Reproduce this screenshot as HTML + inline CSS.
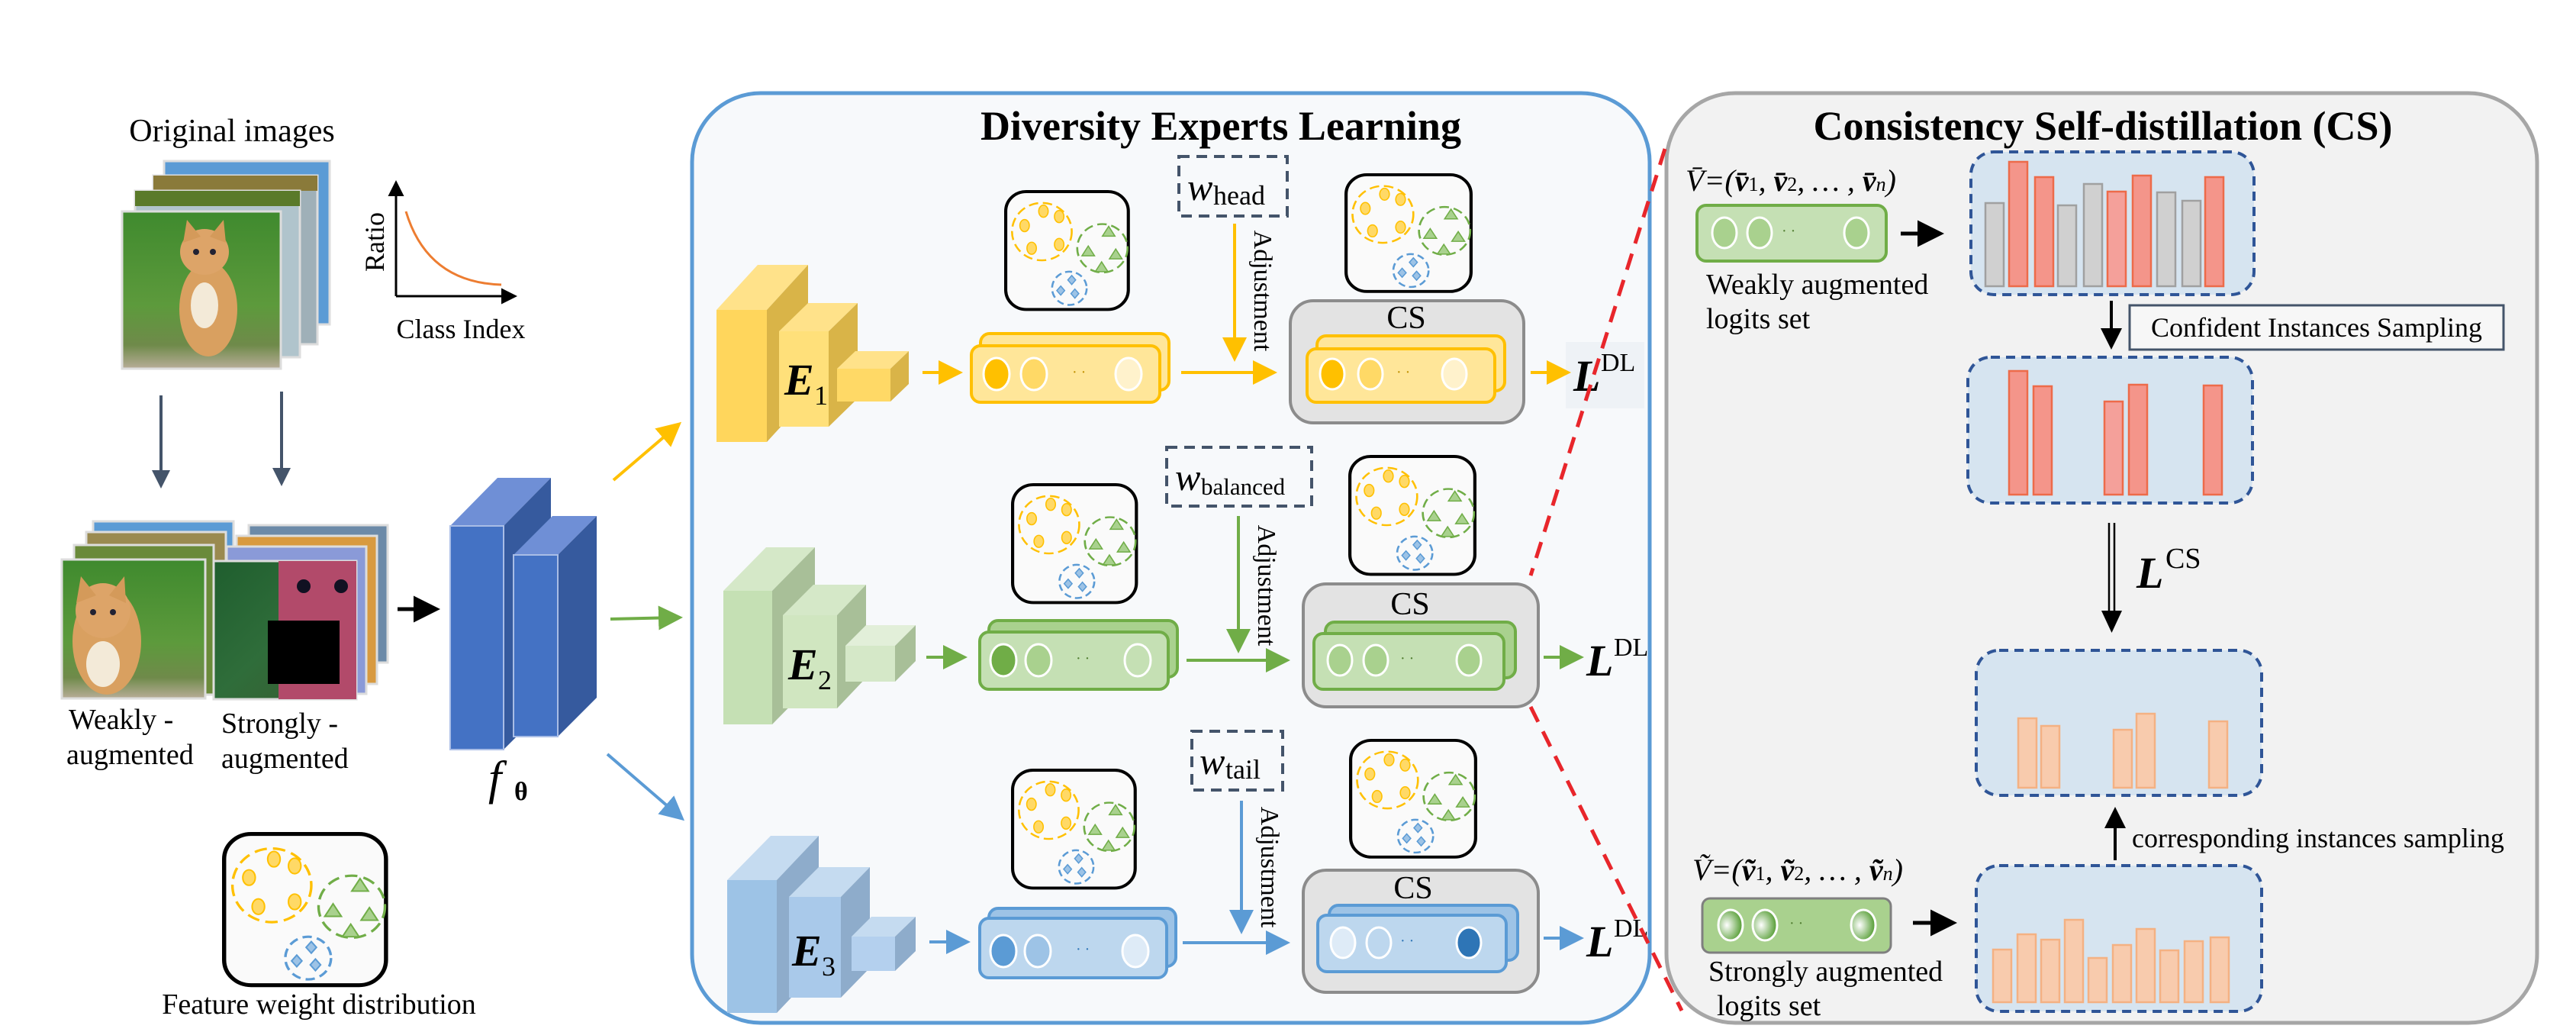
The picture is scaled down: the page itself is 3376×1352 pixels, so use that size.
<!DOCTYPE html>
<html><head><meta charset="utf-8">
<style>
html,body{margin:0;padding:0;background:#fff;}
svg{display:block;font-family:"Liberation Serif",serif;}
text{font-family:"Liberation Serif",serif;}
</style></head>
<body>
<svg width="3376" height="1352" viewBox="0 0 3376 1352" xmlns="http://www.w3.org/2000/svg" font-family="Liberation Serif, serif">
<defs>
  <marker id="ay" markerWidth="8" markerHeight="8" refX="6" refY="4" orient="auto" markerUnits="strokeWidth"><path d="M0,0 L8,4 L0,8 z" fill="#ffc000"/></marker>
  <marker id="ag" markerWidth="8" markerHeight="8" refX="6" refY="4" orient="auto" markerUnits="strokeWidth"><path d="M0,0 L8,4 L0,8 z" fill="#70ad47"/></marker>
  <marker id="ab" markerWidth="8" markerHeight="8" refX="6" refY="4" orient="auto" markerUnits="strokeWidth"><path d="M0,0 L8,4 L0,8 z" fill="#5b9bd5"/></marker>
  <marker id="ak" markerWidth="7" markerHeight="7" refX="5" refY="3.5" orient="auto" markerUnits="strokeWidth"><path d="M0,0 L7,3.5 L0,7 z" fill="#000"/></marker>
  <marker id="ad" markerWidth="6" markerHeight="6" refX="4" refY="3" orient="auto" markerUnits="strokeWidth"><path d="M0,0 L6,3 L0,6 z" fill="#44546a"/></marker>
  <linearGradient id="grass" x1="0" y1="0" x2="0" y2="1"><stop offset="0" stop-color="#3f8a2e"/><stop offset="0.6" stop-color="#5d9a3c"/><stop offset="0.85" stop-color="#6f8a4a"/><stop offset="1" stop-color="#b8ad98"/></linearGradient>
  <linearGradient id="grass2" x1="0" y1="0" x2="1" y2="1"><stop offset="0" stop-color="#1f5e2e"/><stop offset="0.5" stop-color="#2f6d3a"/><stop offset="1" stop-color="#3b5a30"/></linearGradient>
  <radialGradient id="cg" cx="0.35" cy="0.5" r="0.6"><stop offset="0" stop-color="#fff"/><stop offset="1" stop-color="#5aa03a"/></radialGradient>
  <g id="feat">
    <rect x="2" y="2" width="156" height="156" rx="26" fill="#fafafa" stroke="#000" stroke-width="4"/>
    <circle cx="48" cy="55" r="38" fill="none" stroke="#ffc000" stroke-width="2.5" stroke-dasharray="12 6"/>
    <ellipse cx="50" cy="28" rx="6" ry="8" fill="#ffd966" stroke="#ffc000" stroke-width="1.5"/>
    <ellipse cx="70" cy="35" rx="6" ry="8" fill="#ffd966" stroke="#ffc000" stroke-width="1.5"/>
    <ellipse cx="26" cy="47" rx="6" ry="8" fill="#ffd966" stroke="#ffc000" stroke-width="1.5"/>
    <ellipse cx="35" cy="77" rx="6" ry="8" fill="#ffd966" stroke="#ffc000" stroke-width="1.5"/>
    <ellipse cx="70" cy="72" rx="6" ry="8" fill="#ffd966" stroke="#ffc000" stroke-width="1.5"/>
    <circle cx="125" cy="77" r="32" fill="none" stroke="#70ad47" stroke-width="2.5" stroke-dasharray="12 6"/>
    <path d="M133,48 l8,13 h-16z M107,74 l8,13 h-16z M142,78 l8,13 h-16z M124,95 l8,13 h-16z" fill="#a9d18e" stroke="#70ad47" stroke-width="1.5"/>
    <circle cx="83" cy="130" r="22" fill="none" stroke="#5b9bd5" stroke-width="2.5" stroke-dasharray="9 5"/>
    <path d="M86,113 l5,6 l-5,6 l-5,-6z M72,127 l5,6 l-5,6 l-5,-6z M90,131 l5,6 l-5,6 l-5,-6z" fill="#9dc3e6" stroke="#5b9bd5" stroke-width="1.5"/>
  </g>
</defs>

<!-- LEFT PANEL -->
<text x="304" y="185" font-size="42" text-anchor="middle">Original images</text>
<rect x="215" y="211" width="217" height="214" fill="#5b9bd5" stroke="#ddd" stroke-width="3"/>
<rect x="201" y="230" width="215" height="221" fill="#9fb0b8" stroke="#ddd" stroke-width="3"/>
<rect x="201" y="230" width="215" height="20" fill="#8a7a3a"/>
<rect x="177" y="250" width="216" height="218" fill="#b0c4cc" stroke="#ddd" stroke-width="3"/>
<rect x="177" y="250" width="216" height="20" fill="#5a7a2a"/>
<rect x="160" y="277" width="208" height="206" fill="url(#grass)" stroke="#ddd" stroke-width="3"/>
<ellipse cx="273" cy="405" rx="38" ry="62" fill="#d9a060"/>
<ellipse cx="268" cy="330" rx="32" ry="30" fill="#dda468"/>
<path d="M240,318 l5,-30 l18,22z M296,318 l-3,-30 l-18,22z" fill="#d49a5a"/>
<ellipse cx="268" cy="400" rx="18" ry="30" fill="#f3ead8"/>
<circle cx="257" cy="330" r="4" fill="#223"/><circle cx="279" cy="330" r="4" fill="#223"/>
<line x1="519" y1="388" x2="519" y2="242" stroke="#000" stroke-width="3" marker-end="url(#ak)"/>
<line x1="519" y1="388" x2="672" y2="388" stroke="#000" stroke-width="3" marker-end="url(#ak)"/>
<path d="M532,277 Q560,370 657,373" fill="none" stroke="#ed7d31" stroke-width="3"/>
<text x="0" y="0" font-size="36" text-anchor="middle" transform="translate(503,317) rotate(-90)">Ratio</text>
<text x="604" y="443" font-size="36" text-anchor="middle">Class Index</text>
<line x1="211" y1="518" x2="211" y2="632" stroke="#44546a" stroke-width="4" marker-end="url(#ad)"/>
<line x1="369" y1="513" x2="369" y2="629" stroke="#44546a" stroke-width="4" marker-end="url(#ad)"/>
<rect x="122" y="683" width="184" height="190" fill="#5b9bd5" stroke="#ddd" stroke-width="3"/>
<rect x="113" y="697" width="183" height="200" fill="#9a8a50" stroke="#ddd" stroke-width="3"/>
<rect x="97" y="714" width="183" height="196" fill="#6a8a3a" stroke="#ddd" stroke-width="3"/>
<rect x="81" y="733" width="188" height="182" fill="url(#grass)" stroke="#ddd" stroke-width="3"/>
<ellipse cx="140" cy="840" rx="45" ry="70" fill="#d9a060"/>
<ellipse cx="135" cy="800" rx="36" ry="36" fill="#dda468"/>
<path d="M100,790 l6,-35 l20,25z M165,790 l-2,-35 l-20,25z" fill="#d49a5a"/>
<ellipse cx="135" cy="870" rx="22" ry="30" fill="#f3ead8"/>
<circle cx="122" cy="802" r="4" fill="#223"/><circle cx="148" cy="802" r="4" fill="#223"/>
<rect x="326" y="688" width="182" height="180" fill="#6c8aa8" stroke="#ddd" stroke-width="3"/>
<rect x="310" y="702" width="184" height="194" fill="#d89a40" stroke="#ddd" stroke-width="3"/>
<rect x="297" y="716" width="183" height="193" fill="#8a9ad8" stroke="#ddd" stroke-width="3"/>
<rect x="280" y="735" width="187" height="181" fill="url(#grass2)" stroke="#ddd" stroke-width="3"/>
<rect x="365" y="735" width="102" height="181" fill="#b24a6a"/>
<circle cx="398" cy="768" r="9" fill="#112"/><circle cx="447" cy="768" r="9" fill="#112"/>
<rect x="351" y="813" width="94" height="83" fill="#000"/>
<text x="90" y="955" font-size="38">Weakly -</text>
<text x="87" y="1001" font-size="38">augmented</text>
<text x="290" y="960" font-size="38">Strongly -</text>
<text x="290" y="1006" font-size="38">augmented</text>
<line x1="521" y1="798" x2="567" y2="798" stroke="#000" stroke-width="5" marker-end="url(#ak)"/>
<polygon points="590,689 652,626 722,626 660,689" fill="#6f8fd6"/>
<polygon points="660,689 722,626 722,920 660,982" fill="#365a9e"/>
<rect x="590" y="689" width="70" height="293" fill="#4472c4" stroke="#a9bde6" stroke-width="2"/>
<polygon points="673,727 724,676 782,676 731,727" fill="#6f8fd6"/>
<polygon points="731,727 782,676 782,914 731,965" fill="#365a9e"/>
<rect x="673" y="727" width="58" height="238" fill="#4472c4" stroke="#a9bde6" stroke-width="2"/>
<text x="640" y="1040" font-size="62" font-style="italic">f</text>
<text x="674" y="1048" font-size="34" font-weight="bold">θ</text>
<use href="#feat" transform="translate(291,1090) scale(1.36,1.27)"/>
<text x="418" y="1328" font-size="38" text-anchor="middle">Feature weight distribution</text>
<line x1="804" y1="629" x2="887" y2="558" stroke="#ffc000" stroke-width="4" marker-end="url(#ay)"/>
<line x1="800" y1="811" x2="887" y2="809" stroke="#70ad47" stroke-width="4" marker-end="url(#ag)"/>
<line x1="796" y1="988" x2="891" y2="1070" stroke="#5b9bd5" stroke-width="4" marker-end="url(#ab)"/>

<!-- DIVERSITY PANEL -->
<rect x="907" y="122" width="1255" height="1218" rx="90" fill="#f7f9fb" stroke="#5b9bd5" stroke-width="5"/>
<text x="1600" y="183" font-size="54" font-weight="bold" text-anchor="middle">Diversity Experts Learning</text>

<polygon points="939,406 993,347 1059,347 1005,406" fill="#ffe28a"/>
<polygon points="1005,406 1059,347 1059,520 1005,579" fill="#d9b448"/>
<rect x="939" y="406" width="66" height="173" fill="#ffd65c"/>
<polygon points="1021,434 1059,397 1124,397 1086,434" fill="#ffe28a"/>
<polygon points="1086,434 1124,397 1124,522 1086,559" fill="#d9b448"/>
<rect x="1021" y="434" width="65" height="125" fill="#ffe07a"/>
<polygon points="1097,483 1121,460 1191,460 1167,483" fill="#ffe28a"/>
<polygon points="1167,483 1191,460 1191,503 1167,526" fill="#d9b448"/>
<rect x="1097" y="483" width="70" height="43" fill="#ffd966"/>
<text x="1028" y="517" font-size="58" font-style="italic" font-weight="bold">E</text><text x="1067" y="530" font-size="36">1</text>
<polygon points="948,774 1004,717 1068,717 1012,774" fill="#d5e8c8"/>
<polygon points="1012,774 1068,717 1068,892 1012,949" fill="#a8bf98"/>
<rect x="948" y="774" width="64" height="175" fill="#c5e0b4"/>
<polygon points="1026,806 1066,766 1135,766 1097,806" fill="#d5e8c8"/>
<polygon points="1097,806 1135,766 1135,888 1097,928" fill="#a8bf98"/>
<rect x="1026" y="806" width="71" height="122" fill="#d0e6c0"/>
<polygon points="1108,846 1135,819 1200,819 1173,846" fill="#e2efd9"/>
<polygon points="1173,846 1200,819 1200,866 1173,893" fill="#a8bf98"/>
<rect x="1108" y="846" width="65" height="47" fill="#d5e8c8"/>
<text x="1033" y="890" font-size="58" font-style="italic" font-weight="bold">E</text><text x="1072" y="903" font-size="36">2</text>
<polygon points="953,1153 1010,1095 1073,1095 1018,1153" fill="#c5dbf0"/>
<polygon points="1018,1153 1073,1095 1073,1269 1018,1327" fill="#8eaccb"/>
<rect x="953" y="1153" width="65" height="174" fill="#9dc3e6"/>
<polygon points="1034,1175 1073,1136 1140,1136 1102,1175" fill="#c5dbf0"/>
<polygon points="1102,1175 1140,1136 1140,1268 1102,1307" fill="#8eaccb"/>
<rect x="1034" y="1175" width="68" height="132" fill="#a9c9ea"/>
<polygon points="1116,1227 1142,1201 1200,1201 1173,1227" fill="#c5dbf0"/>
<polygon points="1173,1227 1200,1201 1200,1246 1173,1272" fill="#8eaccb"/>
<rect x="1116" y="1227" width="57" height="45" fill="#b4d0ee"/>
<text x="1038" y="1265" font-size="58" font-style="italic" font-weight="bold">E</text><text x="1077" y="1278" font-size="36">3</text>

<line x1="1209" y1="488" x2="1254" y2="488" stroke="#ffc000" stroke-width="4" marker-end="url(#ay)"/>
<line x1="1214" y1="861" x2="1260" y2="861" stroke="#70ad47" stroke-width="4" marker-end="url(#ag)"/>
<line x1="1218" y1="1234" x2="1264" y2="1234" stroke="#5b9bd5" stroke-width="4" marker-end="url(#ab)"/>

<rect x="1285" y="437" width="247" height="74" rx="12" fill="#ffe699" stroke="#ffc000" stroke-width="4"/>
<rect x="1273" y="453" width="247" height="74" rx="12" fill="#ffe699" stroke="#ffc000" stroke-width="4"/>
<ellipse cx="1306" cy="490" rx="17" ry="21" fill="#ffc000" stroke="#fff" stroke-width="3"/>
<ellipse cx="1355" cy="490" rx="17" ry="21" fill="#ffd966" stroke="#fff" stroke-width="3"/>
<ellipse cx="1479" cy="490" rx="17" ry="21" fill="#fff2cc" stroke="#fff" stroke-width="3"/>
<text x="1405" y="494" font-size="20" fill="#c09000">·  ·</text>
<rect x="1296" y="813" width="247" height="74" rx="12" fill="#a9d18e" stroke="#70ad47" stroke-width="4"/>
<rect x="1284" y="828" width="247" height="75" rx="12" fill="#c5e0b4" stroke="#70ad47" stroke-width="4"/>
<ellipse cx="1315" cy="865" rx="17" ry="21" fill="#70ad47" stroke="#fff" stroke-width="3"/>
<ellipse cx="1361" cy="865" rx="17" ry="21" fill="#a9d18e" stroke="#fff" stroke-width="3"/>
<ellipse cx="1491" cy="865" rx="17" ry="21" fill="#c5e0b4" stroke="#fff" stroke-width="3"/>
<text x="1410" y="869" font-size="20" fill="#507d30">·  ·</text>
<rect x="1296" y="1190" width="245" height="76" rx="12" fill="#9dc3e6" stroke="#5b9bd5" stroke-width="4"/>
<rect x="1284" y="1203" width="245" height="78" rx="12" fill="#bdd7ee" stroke="#5b9bd5" stroke-width="4"/>
<ellipse cx="1315" cy="1246" rx="17" ry="21" fill="#5b9bd5" stroke="#fff" stroke-width="3"/>
<ellipse cx="1360" cy="1246" rx="17" ry="21" fill="#9dc3e6" stroke="#fff" stroke-width="3"/>
<ellipse cx="1488" cy="1246" rx="17" ry="21" fill="#deebf7" stroke="#fff" stroke-width="3"/>
<text x="1410" y="1250" font-size="20" fill="#2e75b6">·  ·</text>

<use href="#feat" transform="translate(1316,249) scale(1.03,0.99)"/>
<use href="#feat" transform="translate(1325,633) scale(1.04,0.99)"/>
<use href="#feat" transform="translate(1325,1007) scale(1.03,0.99)"/>
<use href="#feat" transform="translate(1762,227) scale(1.05,0.98)"/>
<use href="#feat" transform="translate(1767,596) scale(1.05,0.99)"/>
<use href="#feat" transform="translate(1768,968) scale(1.05,0.98)"/>

<rect x="1545" y="205" width="142" height="78" fill="none" stroke="#44546a" stroke-width="4" stroke-dasharray="14 9"/>
<text x="1556" y="262" font-size="50" font-style="italic">w</text><text x="1590" y="268" font-size="36">head</text>
<rect x="1529" y="586" width="190" height="77" fill="none" stroke="#44546a" stroke-width="4" stroke-dasharray="14 9"/>
<text x="1540" y="642" font-size="50" font-style="italic">w</text><text x="1574" y="648" font-size="31">balanced</text>
<rect x="1562" y="958" width="119" height="77" fill="none" stroke="#44546a" stroke-width="4" stroke-dasharray="14 9"/>
<text x="1572" y="1014" font-size="50" font-style="italic">w</text><text x="1606" y="1020" font-size="36">tail</text>

<line x1="1618" y1="293" x2="1618" y2="466" stroke="#ffc000" stroke-width="4" marker-end="url(#ay)"/>
<text transform="translate(1644,381) rotate(90)" font-size="34" text-anchor="middle">Adjustment</text>
<line x1="1623" y1="676" x2="1623" y2="848" stroke="#70ad47" stroke-width="4" marker-end="url(#ag)"/>
<text transform="translate(1649,767) rotate(90)" font-size="34" text-anchor="middle">Adjustment</text>
<line x1="1627" y1="1049" x2="1627" y2="1216" stroke="#5b9bd5" stroke-width="4" marker-end="url(#ab)"/>
<text transform="translate(1653,1136) rotate(90)" font-size="34" text-anchor="middle">Adjustment</text>

<line x1="1548" y1="488" x2="1666" y2="488" stroke="#ffc000" stroke-width="4" marker-end="url(#ay)"/>
<line x1="1555" y1="865" x2="1683" y2="865" stroke="#70ad47" stroke-width="4" marker-end="url(#ag)"/>
<line x1="1550" y1="1235" x2="1683" y2="1235" stroke="#5b9bd5" stroke-width="4" marker-end="url(#ab)"/>

<rect x="1691" y="394" width="306" height="160" rx="30" fill="#e3e3e3" stroke="#8c8c8c" stroke-width="4"/>
<text x="1843" y="430" font-size="42" text-anchor="middle">CS</text>
<rect x="1726" y="440" width="246" height="72" rx="12" fill="#ffe699" stroke="#ffc000" stroke-width="4"/>
<rect x="1713" y="457" width="246" height="70" rx="12" fill="#ffe699" stroke="#ffc000" stroke-width="4"/>
<ellipse cx="1746" cy="490" rx="16" ry="20" fill="#ffc000" stroke="#fff" stroke-width="3"/>
<ellipse cx="1796" cy="490" rx="16" ry="20" fill="#ffd966" stroke="#fff" stroke-width="3"/>
<ellipse cx="1906" cy="490" rx="16" ry="20" fill="#fff2cc" stroke="#fff" stroke-width="3"/>
<text x="1830" y="494" font-size="20" fill="#c09000">·  ·</text>

<rect x="1708" y="765" width="308" height="161" rx="30" fill="#e3e3e3" stroke="#8c8c8c" stroke-width="4"/>
<text x="1848" y="805" font-size="42" text-anchor="middle">CS</text>
<rect x="1737" y="815" width="249" height="73" rx="12" fill="#a9d18e" stroke="#70ad47" stroke-width="4"/>
<rect x="1722" y="830" width="249" height="73" rx="12" fill="#c5e0b4" stroke="#70ad47" stroke-width="4"/>
<ellipse cx="1756" cy="865" rx="16" ry="20" fill="#a9d18e" stroke="#fff" stroke-width="3"/>
<ellipse cx="1803" cy="865" rx="16" ry="20" fill="#a9d18e" stroke="#fff" stroke-width="3"/>
<ellipse cx="1925" cy="865" rx="16" ry="20" fill="#a9d18e" stroke="#fff" stroke-width="3"/>
<text x="1835" y="869" font-size="20" fill="#507d30">·  ·</text>

<rect x="1708" y="1140" width="308" height="160" rx="30" fill="#e3e3e3" stroke="#8c8c8c" stroke-width="4"/>
<text x="1852" y="1177" font-size="42" text-anchor="middle">CS</text>
<rect x="1742" y="1186" width="247" height="72" rx="12" fill="#9dc3e6" stroke="#5b9bd5" stroke-width="4"/>
<rect x="1727" y="1199" width="247" height="74" rx="12" fill="#bdd7ee" stroke="#5b9bd5" stroke-width="4"/>
<ellipse cx="1760" cy="1235" rx="16" ry="20" fill="#deebf7" stroke="#fff" stroke-width="3"/>
<ellipse cx="1807" cy="1235" rx="16" ry="20" fill="#bdd7ee" stroke="#fff" stroke-width="3"/>
<ellipse cx="1925" cy="1235" rx="16" ry="20" fill="#2e75b6" stroke="#fff" stroke-width="3"/>
<text x="1835" y="1239" font-size="20" fill="#2e75b6">·  ·</text>

<rect x="2052" y="448" width="103" height="87" fill="#eef2f6"/>
<line x1="2006" y1="488" x2="2051" y2="488" stroke="#ffc000" stroke-width="4" marker-end="url(#ay)"/>
<text x="2062" y="512" font-size="58" font-style="italic" font-weight="bold">L</text><text x="2098" y="486" font-size="34" font-family="Liberation Sans, sans-serif">DL</text>
<line x1="2023" y1="861" x2="2068" y2="861" stroke="#70ad47" stroke-width="4" marker-end="url(#ag)"/>
<text x="2079" y="885" font-size="58" font-style="italic" font-weight="bold">L</text><text x="2115" y="859" font-size="34" font-family="Liberation Sans, sans-serif">DL</text>
<line x1="2023" y1="1229" x2="2068" y2="1229" stroke="#5b9bd5" stroke-width="4" marker-end="url(#ab)"/>
<text x="2079" y="1253" font-size="58" font-style="italic" font-weight="bold">L</text><text x="2115" y="1227" font-size="34" font-family="Liberation Sans, sans-serif">DL</text>

<!-- CS PANEL -->
<rect x="2184" y="122" width="1141" height="1218" rx="90" fill="#f2f2f2" stroke="#a6a6a6" stroke-width="5"/>
<text x="2756" y="183" font-size="54" font-weight="bold" text-anchor="middle">Consistency Self-distillation (CS)</text>

<line x1="2182" y1="195" x2="2006" y2="754" stroke="#e8262b" stroke-width="5" stroke-dasharray="22 14"/>
<line x1="2006" y1="926" x2="2204" y2="1324" stroke="#e8262b" stroke-width="5" stroke-dasharray="22 14"/>

<text x="2209" y="250" font-size="40" font-style="italic">V̄=(<tspan font-weight="bold">v̄</tspan><tspan font-size="26" font-style="normal">1</tspan>, <tspan font-weight="bold">v̄</tspan><tspan font-size="26" font-style="normal">2</tspan>, … , <tspan font-weight="bold">v̄</tspan><tspan font-size="26">n</tspan>)</text>
<rect x="2224" y="269" width="248" height="73" rx="12" fill="#c5e0b4" stroke="#70ad47" stroke-width="4"/>
<ellipse cx="2260" cy="305" rx="16" ry="20" fill="#a9d18e" stroke="#fff" stroke-width="3"/>
<ellipse cx="2306" cy="305" rx="16" ry="20" fill="#a9d18e" stroke="#fff" stroke-width="3"/>
<ellipse cx="2433" cy="305" rx="16" ry="20" fill="#a9d18e" stroke="#fff" stroke-width="3"/>
<text x="2335" y="309" font-size="20" fill="#507d30">·   ·</text>
<line x1="2491" y1="306" x2="2538" y2="306" stroke="#000" stroke-width="5" marker-end="url(#ak)"/>
<text x="2236" y="385" font-size="38">Weakly augmented</text>
<text x="2236" y="430" font-size="38">logits set</text>

<rect x="2583" y="199" width="371" height="187" rx="30" fill="#d6e4f0" stroke="#2f5597" stroke-width="4" stroke-dasharray="12 8"/>
<g stroke-width="2.5">
<rect x="2602" y="266" width="24" height="109" fill="#d0d0d0" stroke="#a0a0a0"/>
<rect x="2633" y="212" width="24" height="163" fill="#f4958a" stroke="#ed6b4a"/>
<rect x="2667" y="232" width="24" height="143" fill="#f4958a" stroke="#ed6b4a"/>
<rect x="2697" y="269" width="24" height="106" fill="#d0d0d0" stroke="#a0a0a0"/>
<rect x="2731" y="241" width="24" height="134" fill="#d0d0d0" stroke="#a0a0a0"/>
<rect x="2762" y="251" width="24" height="124" fill="#f4a09a" stroke="#ed6b4a"/>
<rect x="2795" y="230" width="24" height="145" fill="#f4958a" stroke="#ed6b4a"/>
<rect x="2827" y="252" width="24" height="123" fill="#d0d0d0" stroke="#a0a0a0"/>
<rect x="2860" y="263" width="24" height="112" fill="#d0d0d0" stroke="#a0a0a0"/>
<rect x="2890" y="232" width="24" height="143" fill="#f4958a" stroke="#ed6b4a"/>
</g>
<line x1="2767" y1="394" x2="2767" y2="450" stroke="#000" stroke-width="4" marker-end="url(#ak)"/>
<rect x="2791" y="400" width="490" height="58" fill="#f7f7f7" stroke="#44546a" stroke-width="3"/>
<text x="3036" y="441" font-size="36" text-anchor="middle">Confident Instances Sampling</text>

<rect x="2579" y="468" width="373" height="191" rx="30" fill="#d6e4f0" stroke="#2f5597" stroke-width="4" stroke-dasharray="12 8"/>
<g stroke-width="2.5" fill="#f4958a" stroke="#ed6b4a">
<rect x="2633" y="486" width="24" height="162"/>
<rect x="2665" y="506" width="24" height="142"/>
<rect x="2758" y="526" width="24" height="122" fill="#f4a09a"/>
<rect x="2790" y="504" width="24" height="144"/>
<rect x="2888" y="505" width="24" height="143"/>
</g>
<line x1="2764" y1="685" x2="2764" y2="805" stroke="#000" stroke-width="2.5"/>
<line x1="2771" y1="685" x2="2771" y2="805" stroke="#000" stroke-width="2.5"/>
<path d="M2754,800 L2781,800 L2767.5,829 z" fill="#000"/>
<text x="2800" y="770" font-size="58" font-style="italic" font-weight="bold">L</text><text x="2838" y="744" font-size="38">CS</text>

<rect x="2590" y="852" width="374" height="190" rx="30" fill="#d6e4f0" stroke="#2f5597" stroke-width="4" stroke-dasharray="12 8"/>
<g stroke-width="2.5" fill="#f8cbad" stroke="#f4b183">
<rect x="2645" y="941" width="24" height="91"/>
<rect x="2675" y="951" width="24" height="81"/>
<rect x="2770" y="956" width="24" height="76"/>
<rect x="2800" y="935" width="24" height="97"/>
<rect x="2895" y="945" width="24" height="87"/>
</g>
<line x1="2772" y1="1127" x2="2772" y2="1065" stroke="#000" stroke-width="4" marker-end="url(#ak)"/>
<text x="2794" y="1110" font-size="36">corresponding instances sampling</text>

<text x="2218" y="1153" font-size="40" font-style="italic">Ṽ=(<tspan font-weight="bold">ṽ</tspan><tspan font-size="26" font-style="normal">1</tspan>, <tspan font-weight="bold">ṽ</tspan><tspan font-size="26" font-style="normal">2</tspan>, … , <tspan font-weight="bold">ṽ</tspan><tspan font-size="26">n</tspan>)</text>
<rect x="2231" y="1177" width="247" height="71" rx="10" fill="#a9d18e" stroke="#7f7f7f" stroke-width="3"/>
<ellipse cx="2268" cy="1212" rx="16" ry="20" fill="url(#cg)" stroke="#fff" stroke-width="3"/>
<ellipse cx="2313" cy="1212" rx="16" ry="20" fill="url(#cg)" stroke="#fff" stroke-width="3"/>
<ellipse cx="2442" cy="1212" rx="16" ry="20" fill="url(#cg)" stroke="#fff" stroke-width="3"/>
<text x="2345" y="1216" font-size="20" fill="#507d30">·    ·</text>
<line x1="2507" y1="1209" x2="2555" y2="1209" stroke="#000" stroke-width="5" marker-end="url(#ak)"/>
<text x="2239" y="1285" font-size="38">Strongly augmented</text>
<text x="2250" y="1330" font-size="38">logits set</text>

<rect x="2590" y="1134" width="374" height="191" rx="30" fill="#d6e4f0" stroke="#2f5597" stroke-width="4" stroke-dasharray="12 8"/>
<g stroke-width="2.5" fill="#f8cbad" stroke="#f4b183">
<rect x="2612" y="1244" width="24" height="69"/>
<rect x="2644" y="1224" width="24" height="89"/>
<rect x="2675" y="1231" width="24" height="82"/>
<rect x="2706" y="1205" width="24" height="108"/>
<rect x="2737" y="1255" width="24" height="58"/>
<rect x="2769" y="1238" width="24" height="75"/>
<rect x="2800" y="1217" width="24" height="96"/>
<rect x="2831" y="1245" width="24" height="68"/>
<rect x="2863" y="1233" width="24" height="80"/>
<rect x="2897" y="1228" width="24" height="85"/>
</g>
</svg>
</body></html>
